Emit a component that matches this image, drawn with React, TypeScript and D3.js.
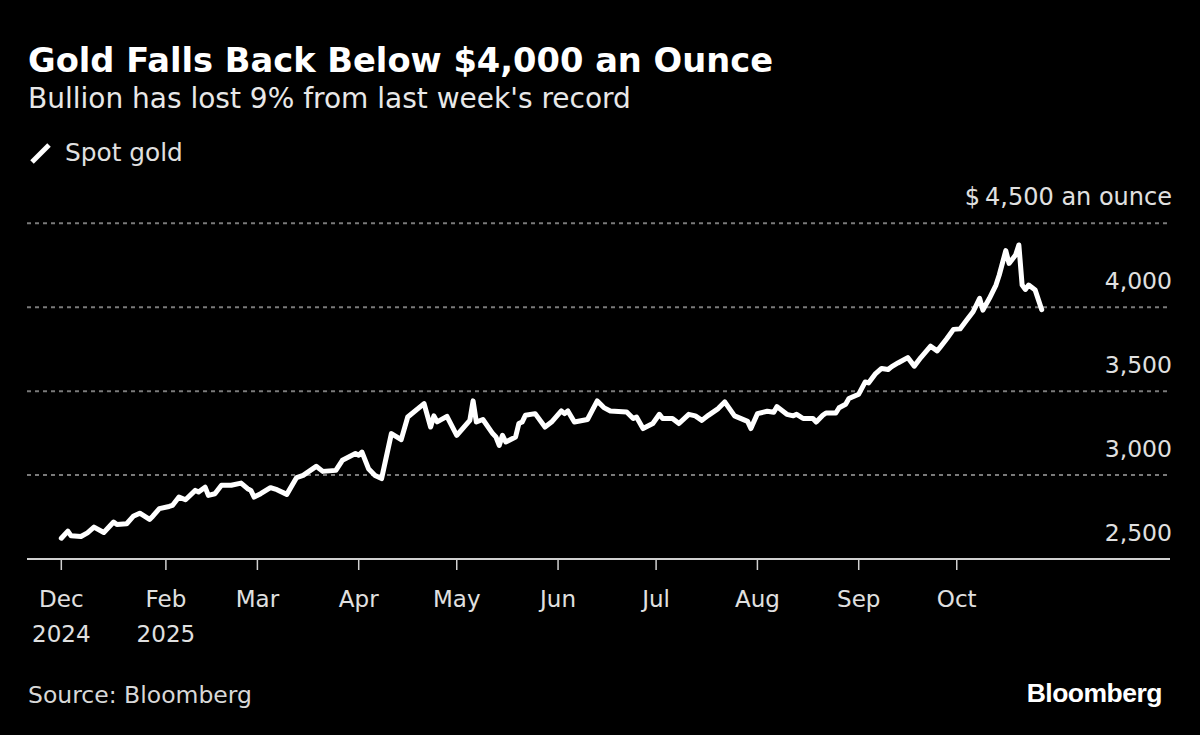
import React from "react";
import * as d3 from "d3";

// ---- Data ----
const dates: string[] = [
  "2024-12-31","2025-01-02","2025-01-03","2025-01-06","2025-01-08","2025-01-10","2025-01-13","2025-01-16","2025-01-17","2025-01-20",
  "2025-01-22","2025-01-24","2025-01-27","2025-01-28","2025-01-30","2025-02-02","2025-02-03","2025-02-05","2025-02-07","2025-02-10",
  "2025-02-11","2025-02-13","2025-02-14","2025-02-16","2025-02-18","2025-02-21","2025-02-24","2025-02-26","2025-02-27","2025-02-28",
  "2025-03-02","2025-03-05","2025-03-07","2025-03-10","2025-03-13","2025-03-15","2025-03-19","2025-03-21","2025-03-25","2025-03-27",
  "2025-03-31","2025-04-01","2025-04-02","2025-04-04","2025-04-06","2025-04-08","2025-04-11","2025-04-14","2025-04-16","2025-04-21",
  "2025-04-23","2025-04-24","2025-04-25","2025-04-28","2025-05-01","2025-05-05","2025-05-06","2025-05-07","2025-05-09","2025-05-12",
  "2025-05-13","2025-05-14","2025-05-15","2025-05-16","2025-05-19","2025-05-20","2025-05-21","2025-05-22","2025-05-25","2025-05-28",
  "2025-05-30","2025-06-02","2025-06-03","2025-06-04","2025-06-06","2025-06-10","2025-06-13","2025-06-15","2025-06-17","2025-06-22",
  "2025-06-24","2025-06-25","2025-06-27","2025-06-30","2025-07-02","2025-07-03","2025-07-06","2025-07-08","2025-07-11","2025-07-13",
  "2025-07-15","2025-07-17","2025-07-20","2025-07-22","2025-07-25","2025-07-29","2025-07-30","2025-08-01","2025-08-04","2025-08-06",
  "2025-08-07","2025-08-10","2025-08-12","2025-08-13","2025-08-15","2025-08-18","2025-08-19","2025-08-21","2025-08-22","2025-08-25",
  "2025-08-26","2025-08-28","2025-08-29","2025-09-01","2025-09-03","2025-09-04","2025-09-06","2025-09-08","2025-09-10","2025-09-11",
  "2025-09-13","2025-09-16","2025-09-18","2025-09-20","2025-09-23","2025-09-25","2025-09-26","2025-09-28","2025-09-30","2025-10-02",
  "2025-10-04","2025-10-06","2025-10-08","2025-10-09","2025-10-11","2025-10-13","2025-10-14","2025-10-16","2025-10-17","2025-10-19",
  "2025-10-20","2025-10-21","2025-10-22","2025-10-23","2025-10-25","2025-10-27",
];

const spotGold: number[] = [
  2624,2666,2638,2634,2656,2690,2658,2720,2706,2710,
  2754,2773,2736,2755,2800,2813,2819,2869,2853,2909,
  2899,2928,2879,2889,2939,2939,2952,2919,2909,2869,
  2889,2925,2913,2885,2985,2998,3052,3022,3028,3088,
  3128,3118,3137,3038,2998,2979,3247,3211,3346,3426,
  3286,3353,3317,3350,3237,3326,3442,3316,3331,3247,
  3227,3177,3237,3197,3227,3307,3316,3356,3366,3286,
  3316,3382,3366,3382,3316,3331,3442,3402,3382,3376,
  3337,3346,3277,3307,3362,3337,3337,3307,3362,3353,
  3326,3356,3396,3436,3353,3320,3277,3366,3380,3374,
  3408,3362,3353,3362,3337,3337,3316,3356,3370,3370,
  3401,3422,3456,3482,3555,3549,3601,3635,3629,3645,
  3668,3700,3649,3700,3768,3740,3764,3814,3868,3871,
  3923,3973,4053,3983,4053,4132,4192,4337,4261,4311,
  4371,4132,4106,4132,4102,3985,
];

const yTicks: number[] = [2500, 3000, 3500, 4000, 4500];
const xTickDates: string[] = ["2024-12-31","2025-02-01","2025-03-01","2025-04-01","2025-05-01","2025-06-01","2025-07-01","2025-08-01","2025-09-01","2025-10-01"];
const xTickMonths: string[] = ["Dec","Feb","Mar","Apr","May","Jun","Jul","Aug","Sep","Oct"];
const xTickYears: string[] = ["2024","2025","","","","","","","",""];

const title = "Gold Falls Back Below $4,000 an Ounce";
const subtitle = "Bullion has lost 9% from last week's record";
const legendLabel = "Spot gold";
const source = "Source: Bloomberg";

const parse = d3.timeParse("%Y-%m-%d");
const FONT = "'DejaVu Sans', sans-serif";

export default function App() {
  const W = 1200, H = 735;
  const left = 27, right = 1170;
  const x = d3.scaleTime()
    .domain([new Date(2024, 11, 20, 12), new Date(2025, 11, 5, 6)])
    .range([left, right]);
  const y = d3.scaleLinear().domain([2500, 4500]).range([559, 223.3]);

  const pts = dates.map((d, i) => ({ date: parse(d) as Date, v: spotGold[i] }));
  const line = d3.line<{ date: Date; v: number }>()
    .x(d => x(d.date))
    .y(d => y(d.v))
    .curve(d3.curveLinear);

  const fmt = d3.format(",");

  return (
    <svg width={W} height={H} style={{ position: "absolute", left: 0, top: 0, background: "#000" }}
      fontFamily={FONT}>
      <rect x={0} y={0} width={W} height={H} fill="#000" />
      <text x={28} y={72} fill="#fff" fontSize={33.7} fontWeight="bold">{title}</text>
      <text x={28} y={108} fill="#e8e8e8" fontSize={28}>{subtitle}</text>

      {/* legend */}
      <line x1={32} y1={162} x2={49} y2={145} stroke="#fff" strokeWidth={5} strokeLinecap="butt" />
      <text x={65} y={161} fill="#e0e0e0" fontSize={24.8}>{legendLabel}</text>

      {/* gridlines */}
      {yTicks.filter(t => t !== 2500).map(t => (
        <line key={"g" + t} x1={left} x2={right} y1={y(t)} y2={y(t)}
          stroke="#7a7a7a" strokeWidth={2} strokeDasharray="4 4" />
      ))}
      {/* y labels */}
      {yTicks.map(t => (
        t === 4500 ? (
          <text key={"l" + t} x={right + 2} y={y(t) - 18} textAnchor="end" fill="#e0e0e0" fontSize={24}>
            <tspan>$</tspan><tspan dx={5}>{fmt(t)} an ounce</tspan>
          </text>
        ) : (
          <text key={"l" + t} x={right + 2} y={y(t) - 18} textAnchor="end" fill="#e0e0e0" fontSize={23.5}>{fmt(t)}</text>
        )
      ))}

      {/* x axis */}
      <line x1={left} x2={right} y1={y(2500)} y2={y(2500)} stroke="#d0d0d0" strokeWidth={2} />
      {xTickDates.map((d, i) => {
        const xx = x(parse(d) as Date);
        return (
          <g key={d}>
            <line x1={xx} x2={xx} y1={y(2500)} y2={y(2500) + 11} stroke="#d0d0d0" strokeWidth={1.5} />
            <text x={xx} y={607} textAnchor="middle" fill="#e0e0e0" fontSize={23}>{xTickMonths[i]}</text>
            {xTickYears[i] && (
              <text x={xx} y={642} textAnchor="middle" fill="#e0e0e0" fontSize={23}>{xTickYears[i]}</text>
            )}
          </g>
        );
      })}

      {/* series */}
      <path d={line(pts) || ""} fill="none" stroke="#fff" strokeWidth={5} strokeLinejoin="round" strokeLinecap="round" />

      {/* footer */}
      <text x={28} y={703} fill="#d8d8d8" fontSize={23.5}>{source}</text>
      <text x={1162} y={702} textAnchor="end" fill="#fff" fontSize={26.5} fontWeight="bold"
        fontFamily="'Liberation Sans', Arial, sans-serif" letterSpacing={-0.5}>Bloomberg</text>
    </svg>
  );
}
